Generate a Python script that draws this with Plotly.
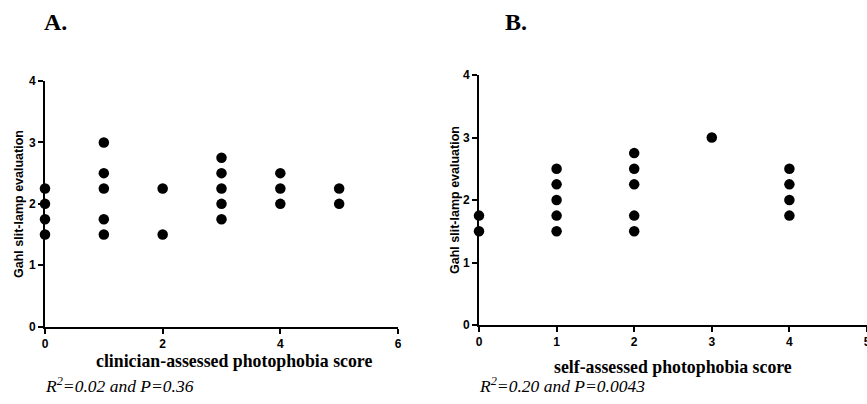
import plotly.graph_objects as go

W, H = 867, 404

# Panel A: clinician-assessed photophobia score vs Gahl slit-lamp evaluation
a_x = [0, 0, 0, 0, 1, 1, 1, 1, 1, 2, 2, 3, 3, 3, 3, 3, 4, 4, 4, 5, 5]
a_y = [2.25, 2, 1.75, 1.5, 3, 2.5, 2.25, 1.75, 1.5, 2.25, 1.5,
       2.75, 2.5, 2.25, 2, 1.75, 2.5, 2.25, 2, 2.25, 2]

# Panel B: self-assessed photophobia score vs Gahl slit-lamp evaluation
b_x = [0, 0, 1, 1, 1, 1, 1, 2, 2, 2, 2, 2, 3, 4, 4, 4, 4]
b_y = [1.75, 1.5, 2.5, 2.25, 2, 1.75, 1.5, 2.75, 2.5, 2.25, 1.75, 1.5,
       3, 2.5, 2.25, 2, 1.75]

a_xticks = [0, 2, 4, 6]
b_xticks = [0, 1, 2, 3, 4, 5]
yticks = [0, 1, 2, 3, 4]

panel_labels = ["A.", "B."]
x_titles = ["clinician-assessed photophobia score", "self-assessed photophobia score"]
y_title = "Gahl slit-lamp evaluation"
stats = ["R<sup>2</sup>=0.02 and P=0.36", "R<sup>2</sup>=0.20 and P=0.0043"]

SANS = "Liberation Sans, Arial, sans-serif"
SERIF = "Liberation Serif, Times New Roman, serif"

fig = go.Figure()
mk = dict(color="black", size=10.5)
fig.add_trace(go.Scatter(x=a_x, y=a_y, mode="markers", marker=mk,
                         cliponaxis=False, xaxis="x", yaxis="y", showlegend=False))
fig.add_trace(go.Scatter(x=b_x, y=b_y, mode="markers", marker=mk,
                         cliponaxis=False, xaxis="x2", yaxis="y2", showlegend=False))

def px_x(p):
    return p / W

def px_y(p):
    return (H - p) / H

axis_common = dict(showgrid=False, zeroline=False, showline=True, linecolor="black",
                   linewidth=2, ticks="outside", ticklen=5, tickwidth=1.5,
                   tickcolor="black", automargin=False,
                   tickfont=dict(family=SANS, size=12, color="black", weight="bold"))

fig.update_layout(
    width=W, height=H, autosize=False,
    margin=dict(l=0, r=0, t=0, b=0, pad=0, autoexpand=False),
    paper_bgcolor="white", plot_bgcolor="white",
    xaxis=dict(domain=[px_x(45), px_x(398)], range=[0, 6], tickvals=a_xticks,
               anchor="y", **axis_common),
    yaxis=dict(domain=[px_y(326.7), px_y(81)], range=[0, 4], tickvals=yticks,
               anchor="x", **axis_common),
    xaxis2=dict(domain=[px_x(479), 1.0], range=[0, 5], tickvals=b_xticks,
                anchor="y2", ticklabeloverflow="allow", **axis_common),
    yaxis2=dict(domain=[px_y(325), px_y(75)], range=[0, 4], tickvals=yticks,
                anchor="x2", **axis_common),
)

ann = []
# panel letters
for lab, cx in zip(panel_labels, [56, 516]):
    ann.append(dict(text=f"<b>{lab}</b>", x=px_x(cx), y=px_y(22), xref="paper", yref="paper",
                    showarrow=False, xanchor="center", yanchor="middle",
                    font=dict(family=SERIF, size=24, color="black")))
# x titles
for t, cx, cy in zip(x_titles, [234, 673], [361, 367]):
    ann.append(dict(text=f"<b>{t}</b>", x=px_x(cx), y=px_y(cy), xref="paper", yref="paper",
                    showarrow=False, xanchor="center", yanchor="middle",
                    font=dict(family=SERIF, size=17.8, color="black")))
# y titles
for cx, cy in zip([19, 455], [204, 200]):
    ann.append(dict(text=f"<b>{y_title}</b>", x=px_x(cx), y=px_y(cy), xref="paper", yref="paper",
                    showarrow=False, xanchor="center", yanchor="middle", textangle=-90,
                    font=dict(family=SANS, size=12.5, color="black")))
# stats
for s, lx in zip(stats, [43, 477]):
    ann.append(dict(text=f"<i>{s}</i>", x=px_x(lx), y=px_y(385), xref="paper", yref="paper",
                    showarrow=False, xanchor="left", yanchor="middle",
                    font=dict(family=SERIF, size=17.5, color="black")))

fig.update_layout(annotations=ann)
fig.write_html("out.html", config={"displayModeBar": False},
               post_script="document.body.style.margin='0';document.body.style.overflow='hidden';")
